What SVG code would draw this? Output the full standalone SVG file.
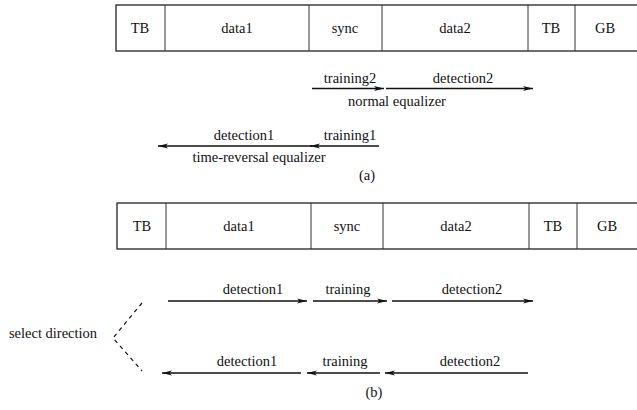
<svg xmlns="http://www.w3.org/2000/svg" width="637" height="410" viewBox="0 0 637 410" font-family="'Liberation Serif', 'DejaVu Serif', serif">
  <style>
    text { font-family: "Liberation Serif", "DejaVu Serif", serif; font-size: 14.5px; fill: #111; text-anchor: middle; }
    .frame { fill: #fff; stroke: #222; stroke-width: 1.3; }
    .div { stroke: #333; stroke-width: 1; }
    .arrow { stroke: #111; stroke-width: 1.6; fill: none; marker-end: url(#head); }
    .chev { stroke: #111; stroke-width: 1.2; fill: none; stroke-dasharray: 4 4; }
  </style>
  <defs>
    <marker id="head" viewBox="0 0 10 6" refX="10" refY="3" markerWidth="11" markerHeight="6" markerUnits="userSpaceOnUse" orient="auto">
      <path d="M0,0.5 L10,3 L0,5.5 L2.5,3 Z" fill="#111"/>
    </marker>
  </defs>
  <rect width="637" height="410" fill="#fff"/>

  <!-- (a) burst frame -->
  <g id="frame-a">
    <rect class="frame" x="116" y="5" width="530" height="46"/>
    <line class="div" x1="165" y1="5" x2="165" y2="51"/>
    <line class="div" x1="309" y1="5" x2="309" y2="51"/>
    <line class="div" x1="382" y1="5" x2="382" y2="51"/>
    <line class="div" x1="528" y1="5" x2="528" y2="51"/>
    <line class="div" x1="575" y1="5" x2="575" y2="51"/>
    <text x="140" y="33">TB</text>
    <text x="237" y="33">data1</text>
    <text x="345" y="33">sync</text>
    <text x="455" y="33">data2</text>
    <text x="551" y="33">TB</text>
    <text x="605" y="33">GB</text>
  </g>

  <!-- (a) equalizer directions -->
  <g id="connectors-a">
    <line class="arrow" x1="312" y1="88.5" x2="384" y2="88.5"/>
    <line class="arrow" x1="386" y1="88.5" x2="533" y2="88.5"/>
    <line class="arrow" x1="379" y1="146" x2="310" y2="146"/>
    <line class="arrow" x1="312" y1="146" x2="158" y2="146"/>
  </g>
  <g id="labels-a">
    <text x="350" y="83">training2</text>
    <text x="463" y="83">detection2</text>
    <text x="397" y="106">normal equalizer</text>
    <text x="350" y="140">training1</text>
    <text x="244" y="140">detection1</text>
    <text x="259" y="162">time-reversal equalizer</text>
    <text x="367" y="180">(a)</text>
  </g>

  <!-- (b) burst frame -->
  <g id="frame-b">
    <rect class="frame" x="117" y="203" width="530" height="46"/>
    <line class="div" x1="166" y1="203" x2="166" y2="249"/>
    <line class="div" x1="311" y1="203" x2="311" y2="249"/>
    <line class="div" x1="383" y1="203" x2="383" y2="249"/>
    <line class="div" x1="529" y1="203" x2="529" y2="249"/>
    <line class="div" x1="577" y1="203" x2="577" y2="249"/>
    <text x="142" y="231">TB</text>
    <text x="239" y="231">data1</text>
    <text x="347" y="231">sync</text>
    <text x="456" y="231">data2</text>
    <text x="553" y="231">TB</text>
    <text x="607" y="231">GB</text>
  </g>

  <!-- (b) selectable directions -->
  <g id="connectors-b">
    <line class="arrow" x1="168" y1="301" x2="307" y2="301"/>
    <line class="arrow" x1="313" y1="301" x2="387" y2="301"/>
    <line class="arrow" x1="392" y1="301" x2="533" y2="301"/>
    <line class="arrow" x1="528" y1="373" x2="385" y2="373"/>
    <line class="arrow" x1="380" y1="373" x2="307" y2="373"/>
    <line class="arrow" x1="301" y1="373" x2="162" y2="373"/>
    <polyline class="chev" points="142,303 113,338 142,371"/>
  </g>
  <g id="labels-b">
    <text x="253" y="294">detection1</text>
    <text x="348" y="294">training</text>
    <text x="472" y="294">detection2</text>
    <text x="53" y="338">select direction</text>
    <text x="247" y="366">detection1</text>
    <text x="345" y="366">training</text>
    <text x="470" y="366">detection2</text>
    <text x="374" y="397">(b)</text>
  </g>
</svg>
